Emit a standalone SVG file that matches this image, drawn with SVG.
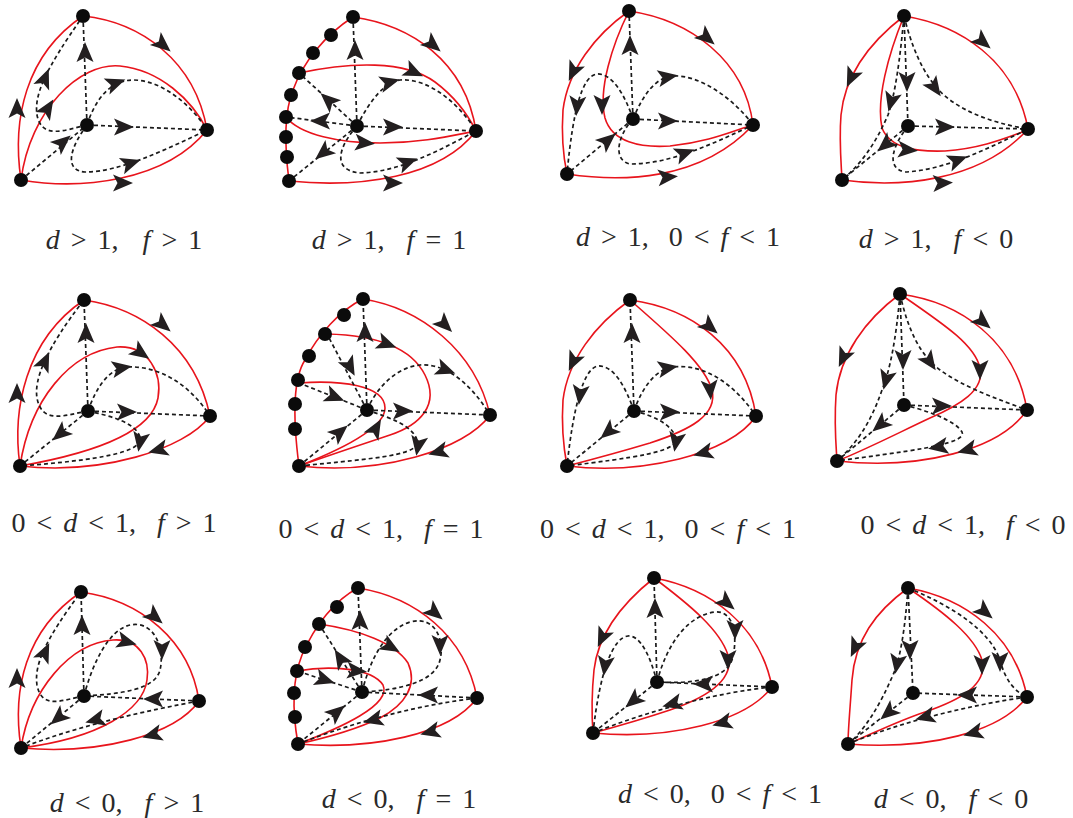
<svg xmlns="http://www.w3.org/2000/svg" xmlns:xlink="http://www.w3.org/1999/xlink" width="1073" height="818" viewBox="0 0 1073 818">
<style>
.r{fill:none;stroke:#e8141c;stroke-width:1.6}
.k{fill:none;stroke:#1a1a1a;stroke-width:1.7;stroke-dasharray:4 3}
.n{fill:#0b0b0b}
.lb{font-family:"Liberation Serif","Times New Roman",serif;font-size:28px;fill:#2a2a2a;text-anchor:middle}
.i{font-style:italic}
</style>
<defs>
<path id="a" d="M10,0 L-10,-8.5 L-5.5,0 L-10,8.5 Z" fill="#231f20"/>
</defs>
<rect width="1073" height="818" fill="#fff"/>

<g id="p1">
<g class="conn">
<path class="r" d="M83,16 C140,22 195,60 207,130"/>
<path class="r" d="M21,180 C12,120 25,55 83,16"/>
<path class="r" d="M21,180 C80,190 165,182 207,130"/>
<path class="r" d="M21,180 C30,110 80,62 120,66 C160,70 192,100 207,130"/>
<path class="k" d="M87,125 L83,16"/>
<path class="k" d="M87,125 L207,130"/>
<path class="k" d="M21,180 L87,125"/>
<path class="k" d="M87,125 C65,130 42,140 37,115 C34,95 45,70 83,16"/>
<path class="k" d="M87,125 C95,100 110,80 133,80 C165,80 195,110 207,130"/>
<path class="k" d="M87,125 C72,145 62,170 85,172 C120,172 165,150 207,130"/>
<use href="#a" transform="translate(163,45) rotate(40)"/>
<use href="#a" transform="translate(17,108) rotate(-90)"/>
<use href="#a" transform="translate(123,183) rotate(0)"/>
<use href="#a" transform="translate(48,108) rotate(-58)"/>
<use href="#a" transform="translate(85,52) rotate(-90)"/>
<use href="#a" transform="translate(124,127) rotate(0)"/>
<use href="#a" transform="translate(63,142) rotate(-40)"/>
<use href="#a" transform="translate(45,78) rotate(-68)"/>
<use href="#a" transform="translate(116,83) rotate(-20)"/>
<use href="#a" transform="translate(131,163) rotate(-18)"/>
</g>
<circle class="n" cx="83" cy="16" r="7"/><circle class="n" cx="207" cy="130" r="7"/><circle class="n" cx="21" cy="180" r="7"/><circle class="n" cx="87" cy="125" r="7"/>
</g>

<g id="p2">
<g class="conn">
<path class="r" d="M289,181 C285,150 283,115 293,90 C303,62 325,35 353,17"/>
<path class="r" d="M353,17 C410,25 465,60 476,131"/>
<path class="r" d="M289,181 C360,188 440,178 476,131"/>
<path class="r" d="M299,73 C350,62 405,60 435,82 C455,97 468,115 476,131"/>
<path class="r" d="M286,117 C300,135 340,143 380,143 C420,143 450,136 476,131"/>
<path class="k" d="M357,126 L353,17"/>
<path class="k" d="M357,126 L476,131"/>
<path class="k" d="M357,126 L286,117"/>
<path class="k" d="M357,126 L299,73"/>
<path class="k" d="M357,126 L289,181"/>
<path class="k" d="M357,126 C370,100 385,82 400,80 C430,78 460,105 476,131"/>
<path class="k" d="M357,126 C340,145 330,170 360,173 C400,172 440,150 476,131"/>
<use href="#a" transform="translate(433,45) rotate(40)"/>
<use href="#a" transform="translate(393,183) rotate(0)"/>
<use href="#a" transform="translate(414,72) rotate(25)"/>
<use href="#a" transform="translate(365,143) rotate(5)"/>
<use href="#a" transform="translate(355,50) rotate(-90)"/>
<use href="#a" transform="translate(393,127) rotate(0)"/>
<use href="#a" transform="translate(320,121) rotate(180)"/>
<use href="#a" transform="translate(328,100) rotate(-138)"/>
<use href="#a" transform="translate(323,153) rotate(141)"/>
<use href="#a" transform="translate(390,82) rotate(-15)"/>
<use href="#a" transform="translate(408,162) rotate(-20)"/>
</g>
<circle class="n" cx="353" cy="17" r="7"/><circle class="n" cx="331" cy="35" r="7"/><circle class="n" cx="313" cy="53" r="7"/><circle class="n" cx="299" cy="73" r="7"/><circle class="n" cx="291" cy="95" r="7"/><circle class="n" cx="286" cy="117" r="7"/><circle class="n" cx="286" cy="137" r="7"/><circle class="n" cx="287" cy="157" r="7"/><circle class="n" cx="289" cy="181" r="7"/>
<circle class="n" cx="476" cy="131" r="7"/><circle class="n" cx="357" cy="126" r="7"/>
</g>

<g id="p3">
<g class="conn">
<path class="r" d="M629,11 C690,20 745,60 753,125"/>
<path class="r" d="M629,11 C595,35 568,70 563,110 C561,140 564,160 567,174"/>
<path class="r" d="M567,174 C620,182 700,182 753,125"/>
<path class="r" d="M629,11 C612,45 598,90 605,118 C612,142 640,148 670,146 C710,142 735,130 753,125"/>
<path class="k" d="M633,119 L629,11"/>
<path class="k" d="M633,119 L753,125"/>
<path class="k" d="M633,119 L567,174"/>
<path class="k" d="M633,119 C625,95 612,73 597,74 C582,76 573,110 567,174"/>
<path class="k" d="M633,119 C643,95 655,78 672,76 C700,74 735,100 753,125"/>
<path class="k" d="M633,119 C618,135 612,160 630,164 C670,164 710,145 753,125"/>
<use href="#a" transform="translate(707,38) rotate(40)"/>
<use href="#a" transform="translate(573,72) rotate(115)"/>
<use href="#a" transform="translate(668,177) rotate(-5)"/>
<use href="#a" transform="translate(602,105) rotate(90)"/>
<use href="#a" transform="translate(630,45) rotate(-90)"/>
<use href="#a" transform="translate(668,121) rotate(0)"/>
<use href="#a" transform="translate(608,140) rotate(-40)"/>
<use href="#a" transform="translate(577,106) rotate(95)"/>
<use href="#a" transform="translate(668,77) rotate(-10)"/>
<use href="#a" transform="translate(685,153) rotate(-20)"/>
</g>
<circle class="n" cx="629" cy="11" r="7"/><circle class="n" cx="753" cy="125" r="7"/><circle class="n" cx="567" cy="174" r="7"/><circle class="n" cx="633" cy="119" r="7"/>
</g>

<g id="p4">
<g class="conn">
<path class="r" d="M904,16 C960,25 1015,60 1028,129"/>
<path class="r" d="M904,16 C870,42 845,75 841,115 C839,140 841,160 842,180"/>
<path class="r" d="M842,180 C900,188 980,182 1028,129"/>
<path class="r" d="M904,16 C888,55 876,100 882,128 C890,148 915,152 945,151 C985,148 1010,136 1028,130"/>
<path class="k" d="M904,16 L908,126"/>
<path class="k" d="M904,16 C900,60 895,95 888,115 C875,145 860,165 842,180"/>
<path class="k" d="M904,16 C915,60 930,85 950,100 C975,118 1005,125 1028,129"/>
<path class="k" d="M908,126 L1028,129"/>
<path class="k" d="M908,126 L842,180"/>
<path class="k" d="M908,126 C893,145 885,168 905,172 C945,170 985,150 1028,129"/>
<use href="#a" transform="translate(983,42) rotate(40)"/>
<use href="#a" transform="translate(851,78) rotate(115)"/>
<use href="#a" transform="translate(943,183) rotate(-3)"/>
<use href="#a" transform="translate(908,150) rotate(5)"/>
<use href="#a" transform="translate(907,82) rotate(90)"/>
<use href="#a" transform="translate(891,102) rotate(105)"/>
<use href="#a" transform="translate(935,88) rotate(55)"/>
<use href="#a" transform="translate(945,127) rotate(0)"/>
<use href="#a" transform="translate(885,145) rotate(140)"/>
<use href="#a" transform="translate(958,160) rotate(-20)"/>
</g>
<circle class="n" cx="904" cy="16" r="7"/><circle class="n" cx="1028" cy="129" r="7"/><circle class="n" cx="842" cy="180" r="7"/><circle class="n" cx="908" cy="126" r="7"/>
</g>

<g id="p5">
<g class="conn">
<path class="r" d="M84,300 C140,308 195,345 210,416"/>
<path class="r" d="M20,466 C12,410 25,340 84,300"/>
<path class="r" d="M210,416 C185,450 100,475 20,466"/>
<path class="r" d="M20,466 C30,400 70,352 117,347 C150,345 162,375 158,398 C152,430 100,452 20,466"/>
<path class="k" d="M88,411 L84,300"/>
<path class="k" d="M88,411 L210,416"/>
<path class="k" d="M88,411 C65,415 42,425 37,398 C34,380 45,350 84,300"/>
<path class="k" d="M88,411 L20,466"/>
<path class="k" d="M88,411 C96,388 108,370 125,367 C160,365 190,385 210,416"/>
<path class="k" d="M88,411 C110,416 135,422 140,437 C144,452 100,460 20,466"/>
<use href="#a" transform="translate(163,325) rotate(40)"/>
<use href="#a" transform="translate(17,393) rotate(-90)"/>
<use href="#a" transform="translate(158,450) rotate(165)"/>
<use href="#a" transform="translate(141,353) rotate(35)"/>
<use href="#a" transform="translate(86,333) rotate(-90)"/>
<use href="#a" transform="translate(127,412) rotate(0)"/>
<use href="#a" transform="translate(45,361) rotate(-65)"/>
<use href="#a" transform="translate(60,434) rotate(140)"/>
<use href="#a" transform="translate(122,368) rotate(-10)"/>
<use href="#a" transform="translate(140,442) rotate(100)"/>
</g>
<circle class="n" cx="84" cy="300" r="7"/><circle class="n" cx="210" cy="416" r="7"/><circle class="n" cx="20" cy="466" r="7"/><circle class="n" cx="88" cy="411" r="7"/>
</g>

<g id="p6">
<g class="conn">
<path class="r" d="M299,466 C293,420 292,380 305,360 C318,335 340,310 363,299"/>
<path class="r" d="M363,299 C420,308 475,350 490,415"/>
<path class="r" d="M490,415 C465,450 380,475 299,466"/>
<path class="r" d="M327,334 C370,335 410,345 425,375 C440,405 420,425 390,435 C360,445 330,455 299,466"/>
<path class="r" d="M299,383 C340,380 385,385 385,408 C385,428 340,450 299,466"/>
<path class="k" d="M367,410 L363,299"/>
<path class="k" d="M367,410 L490,415"/>
<path class="k" d="M367,410 L327,334"/>
<path class="k" d="M367,410 L299,383"/>
<path class="k" d="M367,410 L299,466"/>
<path class="k" d="M367,410 C378,385 398,367 420,365 C450,363 475,390 490,415"/>
<path class="k" d="M367,410 C390,418 412,425 417,440 C421,455 380,458 299,466"/>
<use href="#a" transform="translate(445,325) rotate(45)"/>
<use href="#a" transform="translate(438,452) rotate(165)"/>
<use href="#a" transform="translate(387,344) rotate(20)"/>
<use href="#a" transform="translate(376,428) rotate(-60)"/>
<use href="#a" transform="translate(365,332) rotate(-90)"/>
<use href="#a" transform="translate(403,411) rotate(0)"/>
<use href="#a" transform="translate(350,367) rotate(62)"/>
<use href="#a" transform="translate(335,397) rotate(22)"/>
<use href="#a" transform="translate(340,432) rotate(-40)"/>
<use href="#a" transform="translate(446,370) rotate(20)"/>
<use href="#a" transform="translate(418,446) rotate(100)"/>
</g>
<circle class="n" cx="363" cy="299" r="7"/><circle class="n" cx="344" cy="315" r="7"/><circle class="n" cx="325" cy="334" r="7"/><circle class="n" cx="309" cy="356" r="7"/><circle class="n" cx="298" cy="380" r="7"/><circle class="n" cx="295" cy="404" r="7"/><circle class="n" cx="295" cy="429" r="7"/><circle class="n" cx="299" cy="466" r="7"/>
<circle class="n" cx="490" cy="415" r="7"/><circle class="n" cx="367" cy="410" r="7"/>
</g>

<g id="p7">
<g class="conn">
<path class="r" d="M630,300 C690,308 745,345 756,416"/>
<path class="r" d="M630,300 C595,325 568,360 563,400 C561,430 564,450 567,466"/>
<path class="r" d="M756,416 C730,455 640,475 567,466"/>
<path class="r" d="M630,300 C670,335 705,365 712,390 C718,415 690,430 650,443 C620,452 590,460 567,466"/>
<path class="k" d="M634,411 L630,300"/>
<path class="k" d="M634,411 L756,416"/>
<path class="k" d="M634,411 L567,466"/>
<path class="k" d="M634,411 C626,388 614,365 598,366 C583,368 573,410 567,466"/>
<path class="k" d="M634,411 C642,388 655,370 672,367 C705,363 735,385 756,416"/>
<path class="k" d="M634,411 C655,416 672,425 676,438 C680,452 630,458 567,466"/>
<use href="#a" transform="translate(710,327) rotate(40)"/>
<use href="#a" transform="translate(573,362) rotate(115)"/>
<use href="#a" transform="translate(703,453) rotate(165)"/>
<use href="#a" transform="translate(710,390) rotate(85)"/>
<use href="#a" transform="translate(632,333) rotate(-90)"/>
<use href="#a" transform="translate(670,412) rotate(0)"/>
<use href="#a" transform="translate(608,432) rotate(140)"/>
<use href="#a" transform="translate(580,395) rotate(97)"/>
<use href="#a" transform="translate(668,368) rotate(-10)"/>
<use href="#a" transform="translate(676,442) rotate(100)"/>
</g>
<circle class="n" cx="630" cy="300" r="7"/><circle class="n" cx="756" cy="416" r="7"/><circle class="n" cx="567" cy="466" r="7"/><circle class="n" cx="634" cy="411" r="7"/>
</g>

<g id="p8">
<g class="conn">
<path class="r" d="M900,294 C960,302 1015,340 1027,410"/>
<path class="r" d="M900,294 C865,320 840,355 836,395 C834,425 836,445 837,461"/>
<path class="r" d="M1027,410 C1000,450 920,470 837,461"/>
<path class="r" d="M900,294 C945,325 975,345 980,368 C985,390 960,405 930,418 C900,432 865,450 837,461"/>
<path class="k" d="M900,294 L904,405"/>
<path class="k" d="M900,294 C896,340 890,370 882,390 C870,425 855,445 837,461"/>
<path class="k" d="M900,294 C908,330 920,355 940,370 C965,388 1000,400 1027,410"/>
<path class="k" d="M904,405 L1027,410"/>
<path class="k" d="M904,405 L837,461"/>
<path class="k" d="M904,405 C925,410 955,420 962,432 C968,445 900,452 837,461"/>
<use href="#a" transform="translate(983,322) rotate(40)"/>
<use href="#a" transform="translate(843,358) rotate(115)"/>
<use href="#a" transform="translate(967,450) rotate(165)"/>
<use href="#a" transform="translate(980,370) rotate(90)"/>
<use href="#a" transform="translate(903,360) rotate(90)"/>
<use href="#a" transform="translate(886,380) rotate(105)"/>
<use href="#a" transform="translate(930,362) rotate(55)"/>
<use href="#a" transform="translate(942,406) rotate(0)"/>
<use href="#a" transform="translate(880,425) rotate(140)"/>
<use href="#a" transform="translate(938,447) rotate(170)"/>
</g>
<circle class="n" cx="900" cy="294" r="7"/><circle class="n" cx="1027" cy="410" r="7"/><circle class="n" cx="837" cy="461" r="7"/><circle class="n" cx="904" cy="405" r="7"/>
</g>

<g id="p9">
<g class="conn">
<path class="r" d="M81,592 C140,600 190,640 199,701"/>
<path class="r" d="M21,748 C12,690 25,630 81,592"/>
<path class="r" d="M199,701 C175,735 100,755 21,748"/>
<path class="r" d="M21,748 C30,690 70,643 113,640 C140,638 150,660 147,680 C143,710 100,738 21,748"/>
<path class="k" d="M84,696 L81,592"/>
<path class="k" d="M84,696 C62,700 42,710 37,685 C34,665 45,640 81,592"/>
<path class="k" d="M84,696 L21,748"/>
<path class="k" d="M199,701 L84,696"/>
<path class="k" d="M199,701 C150,710 80,725 21,748"/>
<path class="k" d="M84,696 C92,665 108,630 130,625 C155,620 165,650 160,670 C155,690 120,694 84,696"/>
<use href="#a" transform="translate(155,617) rotate(40)"/>
<use href="#a" transform="translate(17,678) rotate(-90)"/>
<use href="#a" transform="translate(152,735) rotate(165)"/>
<use href="#a" transform="translate(127,642) rotate(15)"/>
<use href="#a" transform="translate(82,625) rotate(-90)"/>
<use href="#a" transform="translate(45,652) rotate(-65)"/>
<use href="#a" transform="translate(58,718) rotate(140)"/>
<use href="#a" transform="translate(153,699) rotate(180)"/>
<use href="#a" transform="translate(95,720) rotate(165)"/>
<use href="#a" transform="translate(162,650) rotate(90)"/>
</g>
<circle class="n" cx="81" cy="592" r="7"/><circle class="n" cx="199" cy="701" r="7"/><circle class="n" cx="21" cy="748" r="7"/><circle class="n" cx="84" cy="696" r="7"/>
</g>

<g id="p10">
<g class="conn">
<path class="r" d="M298,744 C292,710 292,680 302,655 C315,625 335,600 358,588"/>
<path class="r" d="M358,588 C415,597 465,635 477,698"/>
<path class="r" d="M477,698 C450,735 370,750 298,744"/>
<path class="r" d="M319,624 C360,630 395,643 408,663 C418,685 405,705 380,718 C355,730 330,737 298,744"/>
<path class="r" d="M297,671 C330,665 372,668 383,685 C392,705 340,728 298,744"/>
<path class="k" d="M362,692 L358,588"/>
<path class="k" d="M362,692 L319,624"/>
<path class="k" d="M362,692 L297,671"/>
<path class="k" d="M362,692 L298,744"/>
<path class="k" d="M477,698 L362,692"/>
<path class="k" d="M477,698 C420,705 360,720 298,744"/>
<path class="k" d="M362,692 C370,660 385,630 410,622 C435,615 445,640 440,660 C435,682 400,690 362,692"/>
<use href="#a" transform="translate(435,613) rotate(40)"/>
<use href="#a" transform="translate(430,732) rotate(165)"/>
<use href="#a" transform="translate(391,647) rotate(30)"/>
<use href="#a" transform="translate(357,671) rotate(5)"/>
<use href="#a" transform="translate(360,620) rotate(-90)"/>
<use href="#a" transform="translate(340,658) rotate(-122)"/>
<use href="#a" transform="translate(325,680) rotate(18)"/>
<use href="#a" transform="translate(337,712) rotate(-40)"/>
<use href="#a" transform="translate(428,695) rotate(180)"/>
<use href="#a" transform="translate(373,720) rotate(165)"/>
<use href="#a" transform="translate(440,645) rotate(90)"/>
</g>
<circle class="n" cx="358" cy="588" r="7"/><circle class="n" cx="337" cy="607" r="7"/><circle class="n" cx="319" cy="624" r="7"/><circle class="n" cx="305" cy="647" r="7"/><circle class="n" cx="297" cy="671" r="7"/><circle class="n" cx="294" cy="693" r="7"/><circle class="n" cx="295" cy="717" r="7"/><circle class="n" cx="298" cy="744" r="7"/>
<circle class="n" cx="477" cy="698" r="7"/><circle class="n" cx="362" cy="692" r="7"/>
</g>

<g id="p11">
<g class="conn">
<path class="r" d="M654,578 C710,588 760,625 772,687"/>
<path class="r" d="M654,578 C620,605 598,635 594,670 C591,700 592,720 593,733"/>
<path class="r" d="M772,687 C745,722 670,740 593,733"/>
<path class="r" d="M654,578 C690,605 720,630 728,655 C735,680 705,698 670,710 C640,720 615,727 593,733"/>
<path class="k" d="M657,682 L654,578"/>
<path class="k" d="M657,682 C650,655 640,635 628,636 C613,638 600,670 593,733"/>
<path class="k" d="M657,682 L593,733"/>
<path class="k" d="M772,687 L657,682"/>
<path class="k" d="M772,687 C720,692 650,710 593,733"/>
<path class="k" d="M657,682 C668,640 690,615 715,612 C735,610 738,640 732,660 C725,680 690,684 657,682"/>
<use href="#a" transform="translate(727,603) rotate(40)"/>
<use href="#a" transform="translate(602,638) rotate(115)"/>
<use href="#a" transform="translate(722,723) rotate(165)"/>
<use href="#a" transform="translate(728,660) rotate(90)"/>
<use href="#a" transform="translate(655,608) rotate(-90)"/>
<use href="#a" transform="translate(605,666) rotate(98)"/>
<use href="#a" transform="translate(633,701) rotate(140)"/>
<use href="#a" transform="translate(703,684) rotate(180)"/>
<use href="#a" transform="translate(672,704) rotate(165)"/>
<use href="#a" transform="translate(735,630) rotate(90)"/>
</g>
<circle class="n" cx="654" cy="578" r="7"/><circle class="n" cx="772" cy="687" r="7"/><circle class="n" cx="593" cy="733" r="7"/><circle class="n" cx="657" cy="682" r="7"/>
</g>

<g id="p12">
<g class="conn">
<path class="r" d="M908,588 C965,598 1015,635 1027,697"/>
<path class="r" d="M908,588 C875,612 855,640 852,680 C850,710 848,730 848,744"/>
<path class="r" d="M1027,697 C1000,732 930,750 848,744"/>
<path class="r" d="M908,588 C945,613 975,637 982,660 C988,685 960,700 925,712 C895,722 870,735 848,744"/>
<path class="k" d="M908,588 L913,693"/>
<path class="k" d="M908,588 C905,630 900,660 893,675 C880,705 865,730 848,744"/>
<path class="k" d="M908,588 C950,605 990,630 1000,660 C1005,680 1015,692 1027,697"/>
<path class="k" d="M1027,697 L913,693"/>
<path class="k" d="M1027,697 C970,705 900,722 848,744"/>
<path class="k" d="M913,693 L848,744"/>
<use href="#a" transform="translate(985,612) rotate(40)"/>
<use href="#a" transform="translate(855,648) rotate(115)"/>
<use href="#a" transform="translate(973,733) rotate(165)"/>
<use href="#a" transform="translate(982,665) rotate(90)"/>
<use href="#a" transform="translate(910,650) rotate(90)"/>
<use href="#a" transform="translate(897,664) rotate(100)"/>
<use href="#a" transform="translate(1000,662) rotate(90)"/>
<use href="#a" transform="translate(967,695) rotate(180)"/>
<use href="#a" transform="translate(925,717) rotate(165)"/>
<use href="#a" transform="translate(888,713) rotate(140)"/>
</g>
<circle class="n" cx="908" cy="588" r="7"/><circle class="n" cx="1027" cy="697" r="7"/><circle class="n" cx="848" cy="744" r="7"/><circle class="n" cx="913" cy="693" r="7"/>
</g>

<g id="labels">
<text class="lb" x="124" y="249"><tspan class="i">d</tspan><tspan dx="11">&gt;</tspan><tspan dx="11">1,</tspan><tspan dx="24" class="i">f</tspan><tspan dx="11">&gt;</tspan><tspan dx="11">1</tspan></text>
<text class="lb" x="389" y="249"><tspan class="i">d</tspan><tspan dx="11">&gt;</tspan><tspan dx="11">1,</tspan><tspan dx="22" class="i">f</tspan><tspan dx="11">=</tspan><tspan dx="11">1</tspan></text>
<text class="lb" x="678" y="246"><tspan class="i">d</tspan><tspan dx="11">&gt;</tspan><tspan dx="11">1,</tspan><tspan dx="20">0</tspan><tspan dx="11">&lt;</tspan><tspan dx="11" class="i">f</tspan><tspan dx="11">&lt;</tspan><tspan dx="11">1</tspan></text>
<text class="lb" x="936" y="248"><tspan class="i">d</tspan><tspan dx="11">&gt;</tspan><tspan dx="11">1,</tspan><tspan dx="22" class="i">f</tspan><tspan dx="11">&lt;</tspan><tspan dx="11">0</tspan></text>
<text class="lb" x="114" y="532">0<tspan dx="11">&lt;</tspan><tspan dx="11" class="i">d</tspan><tspan dx="11">&lt;</tspan><tspan dx="11">1,</tspan><tspan dx="21" class="i">f</tspan><tspan dx="11">&gt;</tspan><tspan dx="11">1</tspan></text>
<text class="lb" x="381" y="538">0<tspan dx="11">&lt;</tspan><tspan dx="11" class="i">d</tspan><tspan dx="11">&lt;</tspan><tspan dx="11">1,</tspan><tspan dx="21" class="i">f</tspan><tspan dx="11">=</tspan><tspan dx="11">1</tspan></text>
<text class="lb" x="668" y="538">0<tspan dx="11">&lt;</tspan><tspan dx="11" class="i">d</tspan><tspan dx="11">&lt;</tspan><tspan dx="11">1,</tspan><tspan dx="20">0</tspan><tspan dx="11">&lt;</tspan><tspan dx="11" class="i">f</tspan><tspan dx="11">&lt;</tspan><tspan dx="11">1</tspan></text>
<text class="lb" x="963" y="534">0<tspan dx="11">&lt;</tspan><tspan dx="11" class="i">d</tspan><tspan dx="11">&lt;</tspan><tspan dx="11">1,</tspan><tspan dx="21" class="i">f</tspan><tspan dx="11">&lt;</tspan><tspan dx="11">0</tspan></text>
<text class="lb" x="127" y="812"><tspan class="i">d</tspan><tspan dx="11">&lt;</tspan><tspan dx="11">0,</tspan><tspan dx="22" class="i">f</tspan><tspan dx="11">&gt;</tspan><tspan dx="11">1</tspan></text>
<text class="lb" x="399" y="808"><tspan class="i">d</tspan><tspan dx="11">&lt;</tspan><tspan dx="11">0,</tspan><tspan dx="22" class="i">f</tspan><tspan dx="11">=</tspan><tspan dx="11">1</tspan></text>
<text class="lb" x="720" y="803"><tspan class="i">d</tspan><tspan dx="11">&lt;</tspan><tspan dx="11">0,</tspan><tspan dx="20">0</tspan><tspan dx="11">&lt;</tspan><tspan dx="11" class="i">f</tspan><tspan dx="11">&lt;</tspan><tspan dx="11">1</tspan></text>
<text class="lb" x="951" y="808"><tspan class="i">d</tspan><tspan dx="11">&lt;</tspan><tspan dx="11">0,</tspan><tspan dx="22" class="i">f</tspan><tspan dx="11">&lt;</tspan><tspan dx="11">0</tspan></text>
</g>
</svg>
